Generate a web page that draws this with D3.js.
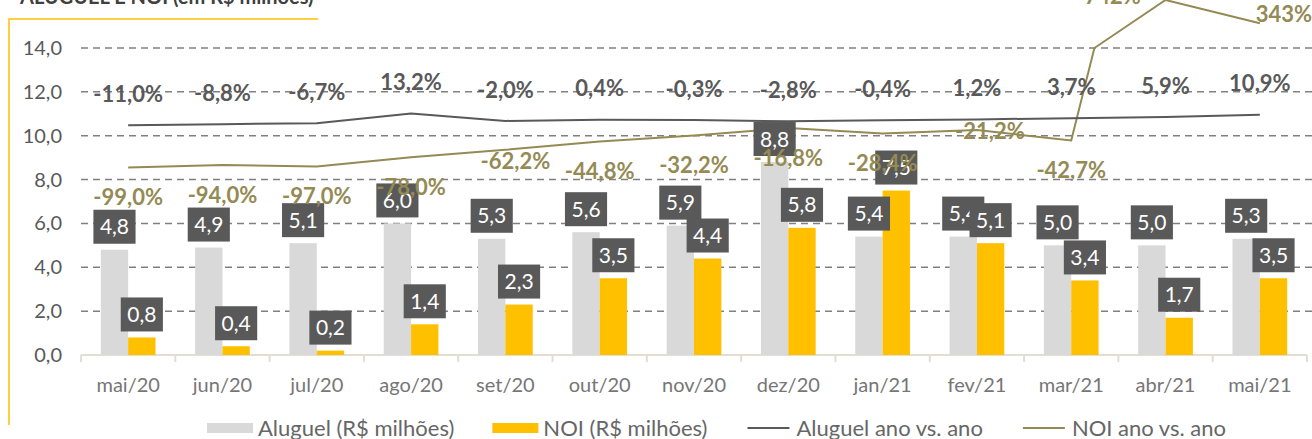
<!DOCTYPE html>
<html>
<head>
<meta charset="utf-8">
<script src="https://cdn.jsdelivr.net/npm/d3@7"></script>
<style>
  body { margin: 0; background: #fff; }
  svg { display: block; font-family: Lato, "Open Sans", sans-serif; }
</style>
</head>
<body>
<div id="chart"></div>
<script>
// data
const categories = ["mai/20", "jun/20", "jul/20", "ago/20", "set/20", "out/20", "nov/20",
                    "dez/20", "jan/21", "fev/21", "mar/21", "abr/21", "mai/21"];
const aluguel = [4.8, 4.9, 5.1, 6.0, 5.3, 5.6, 5.9, 8.8, 5.4, 5.4, 5.0, 5.0, 5.3];
const noi = [0.8, 0.4, 0.2, 1.4, 2.3, 3.5, 4.4, 5.8, 7.5, 5.1, 3.4, 1.7, 3.5];
const aluguelYoY = [-11.0, -8.8, -6.7, 13.2, -2.0, 0.4, -0.3, -2.8, -0.4, 1.2, 3.7, 5.9, 10.9];
const noiYoY = [-99.0, -94.0, -97.0, -78.0, -62.2, -44.8, -32.2, -16.8, -28.4, -21.2, -42.7, 742, 343];
const yTicks = [0, 2, 4, 6, 8, 10, 12, 14];
const legendItems = [
  { name: "Aluguel (R$ milhões)", type: "bar", color: "#D9D9D9" },
  { name: "NOI (R$ milhões)", type: "bar", color: "#FFC000" },
  { name: "Aluguel ano vs. ano", type: "line", color: "#595959" },
  { name: "NOI ano vs. ano", type: "line", color: "#948A54" }
];

// manual label nudges (like the hand-moved labels in the original)
const noiLabelNudge = { "set/20": [10, -18], "fev/21": [13, -29], "abr/21": [-53, -34], "mai/21": [24, -39] };

const width = 1312, height = 439;
const plotLeft = 81, plotRight = 1307, plotTop = 48, plotBottom = 355;

const ptBR = d3.formatLocale({ decimal: ",", thousands: ".", grouping: [3], currency: ["R$", ""], minus: "-" });
const f1 = ptBR.format(".1f");
const pct = v => Math.abs(v) >= 100 ? ptBR.format(".0f")(v) + "%" : f1(v) + "%";

const svg = d3.select("#chart").append("svg")
  .attr("width", width)
  .attr("height", height);

// title (cut off at the top in the original)
svg.append("text")
  .attr("x", 20).attr("y", 4)
  .attr("fill", "#404040")
  .style("font-size", "20px").style("font-weight", "bold")
  .text("ALUGUEL E NOI (em R$ milhões)");

// yellow frame
svg.append("path")
  .attr("d", "M9,425V19H318")
  .attr("fill", "none").attr("stroke", "#FFC000").attr("stroke-width", 1.5);

// scales
const x = d3.scaleBand().domain(categories).range([plotLeft, plotRight]);
const x1 = d3.scaleBand().domain(["aluguel", "noi"])
  .range([x.bandwidth() * 0.21, x.bandwidth() * 0.79]);
const y = d3.scaleLinear().domain([0, 14]).range([plotBottom, plotTop]);

// secondary (hidden) axis for the % lines; values above the max get squeezed in
const pctMax = 150;
const y2Lin = d3.scaleLinear().domain([-490, pctMax]).range([plotBottom, plotTop]);
const y2Over = d3.scaleLog().domain([pctMax, d3.max(noiYoY)]).range([plotTop, 0]);
const y2 = v => v <= pctMax ? y2Lin(v) : y2Over(v);
const cx = i => x(categories[i]) + x.bandwidth() / 2;

// gridlines
svg.append("g")
  .selectAll("line")
  .data(yTicks.filter(d => d > 0))
  .join("line")
  .attr("x1", plotLeft).attr("x2", width)
  .attr("y1", d => y(d)).attr("y2", d => y(d))
  .attr("stroke", "#808080").attr("stroke-width", 1.5)
  .attr("stroke-dasharray", "7,5");

// y tick labels
svg.append("g")
  .selectAll("text")
  .data(yTicks)
  .join("text")
  .attr("x", 62).attr("y", d => y(d))
  .attr("dy", "0.35em")
  .attr("text-anchor", "end")
  .attr("fill", "#595959")
  .style("font-size", "20px")
  .text(d => f1(d));

// x axis
const xAxis = d3.axisBottom(x).tickSize(0).tickPadding(0);
const gx = svg.append("g").attr("transform", `translate(0,${plotBottom})`).call(xAxis);
gx.select(".domain").attr("stroke", "#E2DED2").attr("stroke-width", 2).attr("d", `M${plotLeft},0H${plotRight}`);
gx.selectAll(".tick text")
  .attr("y", 37)
  .attr("dy", 0)
  .attr("fill", "#767676")
  .style("font-family", "Lato, sans-serif")
  .style("font-size", "20px");
svg.append("g")
  .selectAll("line")
  .data(d3.range(categories.length + 1))
  .join("line")
  .attr("x1", i => plotLeft + i * x.step()).attr("x2", i => plotLeft + i * x.step())
  .attr("y1", plotBottom).attr("y2", plotBottom + 7)
  .attr("stroke", "#E2DED2").attr("stroke-width", 2);

// bars
const rows = categories.map((c, i) => ({ cat: c, aluguel: aluguel[i], noi: noi[i] }));
const bars = svg.append("g");
bars.selectAll("rect.al")
  .data(rows)
  .join("rect")
  .attr("class", "al")
  .attr("x", d => x(d.cat) + x1("aluguel"))
  .attr("width", x1.bandwidth())
  .attr("y", d => y(d.aluguel))
  .attr("height", d => y(0) - y(d.aluguel))
  .attr("fill", "#D9D9D9");
bars.selectAll("rect.noi")
  .data(rows)
  .join("rect")
  .attr("class", "noi")
  .attr("x", d => x(d.cat) + x1("noi"))
  .attr("width", x1.bandwidth())
  .attr("y", d => y(d.noi))
  .attr("height", d => y(0) - y(d.noi))
  .attr("fill", "#FFC000");

// lines
function linePoints(vals) {
  const pts = [];
  vals.forEach((v, i) => {
    if (i > 0) {
      const a = vals[i - 1];
      if ((a - pctMax) * (v - pctMax) < 0) {
        const t = (pctMax - a) / (v - a);
        pts.push([cx(i - 1) + t * (cx(i) - cx(i - 1)), pctMax]);
      }
    }
    pts.push([cx(i), v]);
  });
  return pts;
}
const line = d3.line().x(d => d[0]).y(d => y2(d[1]));
svg.append("path")
  .attr("d", line(linePoints(noiYoY)))
  .attr("fill", "none").attr("stroke", "#948A54").attr("stroke-width", 2);
svg.append("path")
  .attr("d", line(linePoints(aluguelYoY)))
  .attr("fill", "none").attr("stroke", "#595959").attr("stroke-width", 2);

// boxed value labels above the bars
function boxLabels(key) {
  const g = svg.append("g").selectAll("g")
    .data(rows)
    .join("g")
    .attr("transform", d => `translate(${x(d.cat) + x1(key) + x1.bandwidth() / 2},${y(d[key]) - 23})`);
  g.append("rect").attr("fill", "#595959");
  g.append("text")
    .attr("text-anchor", "middle")
    .attr("dy", "0.36em")
    .attr("fill", "#fff")
    .style("font-size", "21px")
    .text(d => f1(d[key]));
  g.each(function () {
    const w = d3.select(this).select("text").node().getComputedTextLength() + 13;
    d3.select(this).select("rect")
      .attr("x", -w / 2).attr("y", -17)
      .attr("width", w).attr("height", 34);
  });
}
boxLabels("aluguel");
boxLabels("noi");

// % labels
svg.append("g")
  .selectAll("text")
  .data(aluguelYoY)
  .join("text")
  .attr("x", (d, i) => cx(i))
  .attr("y", d => y2(d) - 31)
  .attr("dy", "0.35em")
  .attr("text-anchor", "middle")
  .attr("fill", "#595959")
  .style("font-size", "22px").style("font-weight", "bold")
  .text(d => pct(d));

svg.append("g")
  .selectAll("text")
  .data(noiYoY)
  .join("text")
  .attr("x", (d, i) => cx(i) + (noiLabelNudge[categories[i]] || [0, 0])[0])
  .attr("y", (d, i) => y2(d) + 30 + (noiLabelNudge[categories[i]] || [0, 0])[1])
  .attr("dy", "0.35em")
  .attr("text-anchor", "middle")
  .attr("fill", "#948A54")
  .style("font-size", "22px").style("font-weight", "bold")
  .text(d => pct(d));

// legend
const legend = svg.append("g").attr("transform", "translate(207,428)");
let lx = 0;
legendItems.forEach(item => {
  const g = legend.append("g").attr("transform", `translate(${lx},0)`);
  if (item.type === "bar") {
    g.append("rect").attr("x", 0).attr("y", -5).attr("width", 46).attr("height", 10).attr("fill", item.color);
  } else {
    g.append("line").attr("x1", 2).attr("x2", 44).attr("y1", 0).attr("y2", 0)
      .attr("stroke", item.color).attr("stroke-width", 2);
  }
  const t = g.append("text")
    .attr("x", 51).attr("dy", "0.35em")
    .attr("fill", "#666")
    .style("font-size", "22px")
    .text(item.name);
  lx += 51 + t.node().getComputedTextLength() + 38;
});
</script>
</body>
</html>
